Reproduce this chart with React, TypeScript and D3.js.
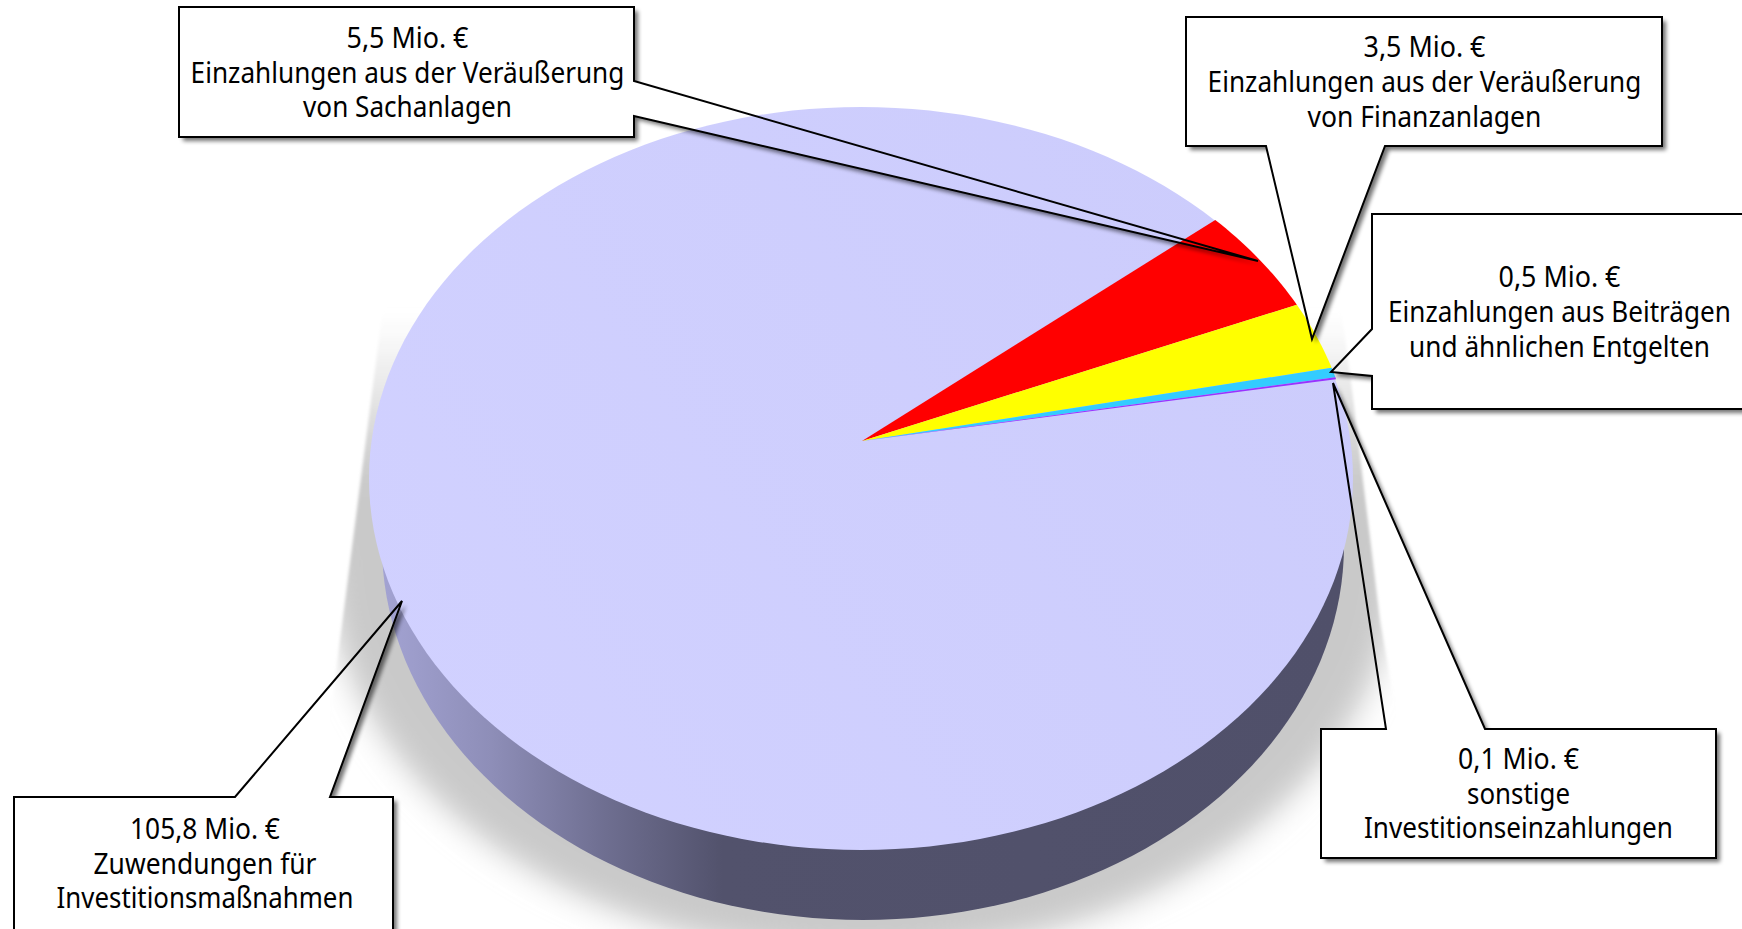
import React, { useLayoutEffect, useRef } from "react";
import * as d3 from "d3";

// ---- data ----
const categories = [
  "Einzahlungen aus der Veräußerung von Sachanlagen",
  "Einzahlungen aus der Veräußerung von Finanzanlagen",
  "Einzahlungen aus Beiträgen und ähnlichen Entgelten",
  "sonstige Investitionseinzahlungen",
  "Zuwendungen für Investitionsmaßnahmen",
];
const values = [5.5, 3.5, 0.5, 0.1, 105.8];
const sliceColors = ["#ff0000", "#ffff00", "#33ccff", "#9933ff", "#ccccff"];

// ---- callout layout ----
const W = 1742;
const H = 929;
const FONT = "'Noto Sans', 'Open Sans', sans-serif";

type Line = { t: string; w: number };
type Callout = {
  box: [number, number, number, number];
  path: [number, number][];
  cx: number;
  base: number[];
  lines: Line[];
};

const callouts: Callout[] = [
  {
    box: [179, 7, 634, 137],
    path: [[179, 7], [634, 7], [634, 81], [1258, 261], [634, 116], [634, 137], [179, 137]],
    cx: 407.5,
    base: [48, 83, 117],
    lines: [
      { t: "5,5 Mio. €", w: 122 },
      { t: "Einzahlungen aus der Veräußerung", w: 434 },
      { t: "von Sachanlagen", w: 209 },
    ],
  },
  {
    box: [1186, 17, 1662, 146],
    path: [[1186, 17], [1662, 17], [1662, 146], [1385, 146], [1312, 339], [1266, 146], [1186, 146]],
    cx: 1424.5,
    base: [57, 92, 127],
    lines: [
      { t: "3,5 Mio. €", w: 122 },
      { t: "Einzahlungen aus der Veräußerung", w: 434 },
      { t: "von Finanzanlagen", w: 234 },
    ],
  },
  {
    box: [1372, 214, 1770, 409],
    path: [[1372, 214], [1770, 214], [1770, 409], [1372, 409], [1372, 376], [1331, 372], [1372, 329]],
    cx: 1559.5,
    base: [287, 322, 357],
    lines: [
      { t: "0,5 Mio. €", w: 122 },
      { t: "Einzahlungen aus Beiträgen", w: 343 },
      { t: "und ähnlichen Entgelten", w: 301 },
    ],
  },
  {
    box: [1321, 729, 1716, 858],
    path: [[1321, 729], [1386, 729], [1333, 383], [1485, 729], [1716, 729], [1716, 858], [1321, 858]],
    cx: 1518.5,
    base: [769, 804, 838],
    lines: [
      { t: "0,1 Mio. €", w: 121 },
      { t: "sonstige", w: 103 },
      { t: "Investitionseinzahlungen", w: 309 },
    ],
  },
  {
    box: [14, 797, 393, 960],
    path: [[14, 797], [235, 797], [402, 601], [330, 797], [393, 797], [393, 960], [14, 960]],
    cx: 205,
    base: [839, 874, 908],
    lines: [
      { t: "105,8 Mio. €", w: 150 },
      { t: "Zuwendungen für", w: 223 },
      { t: "Investitionsmaßnahmen", w: 297 },
    ],
  },
];

// ---- pie geometry: a flat disc seen in perspective ----
const apexX = 862;
const apexY = 441;
const persp = 0.101;
const discA = 489.5;
const discB = 367.7;
const startDeg = 50.2;

const project = (theta: number): [number, number] => {
  const u = Math.sin(theta);
  const v = -Math.cos(theta);
  const w = 1 - persp * v;
  return [apexX + (discA * u) / w, apexY + (discB * v) / w];
};

const lineGen = d3.line<[number, number]>();

const wedgePath = (a0: number, a1: number): string => {
  const n = Math.max(2, Math.ceil(((a1 - a0) * 180) / Math.PI));
  const rim = d3.range(n + 1).map((i) => project(a0 + ((a1 - a0) * i) / n));
  return lineGen([[apexX, apexY], ...rim])! + "Z";
};

const ellipsePath = (cx: number, cy: number, rx: number, ry: number): string => {
  const pts = d3.range(0, 361, 2).map((d) => {
    const a = (d * Math.PI) / 180;
    return [cx + rx * Math.cos(a), cy + ry * Math.sin(a)] as [number, number];
  });
  return lineGen(pts)! + "Z";
};

// A centred line of text squeezed horizontally to the width it has in the chart.
function FitText({ x, y, w, children }: { x: number; y: number; w: number; children: string }) {
  const ref = useRef<SVGTextElement>(null);
  useLayoutEffect(() => {
    const el = ref.current;
    if (!el) return;
    const len = el.getComputedTextLength();
    el.setAttribute("transform", `translate(${x},${y}) scale(${w / len},1)`);
  }, [x, y, w]);
  return (
    <text
      ref={ref}
      transform={`translate(${x},${y})`}
      textAnchor="middle"
      fontFamily={FONT}
      fontSize={29.5}
      fill="#000"
    >
      {children}
    </text>
  );
}

export default function App() {
  const start = (startDeg * Math.PI) / 180;
  const arcs = d3
    .pie<number>()
    .sort(null)
    .startAngle(start)
    .endAngle(start + 2 * Math.PI)(values);

  return (
    <svg
      width={W}
      height={H}
      viewBox={`0 0 ${W} ${H}`}
      style={{ position: "fixed", left: 0, top: 0, display: "block", background: "#fff" }}
    >
      <defs>
        <linearGradient id="wall" gradientUnits="userSpaceOnUse" x1={375} x2={1340} y1={0} y2={0}>
          <stop offset="0" stopColor="#a4a4d4" />
          <stop offset="0.12" stopColor="#8e8eb8" />
          <stop offset="0.24" stopColor="#6e6e90" />
          <stop offset="0.36" stopColor="#52526c" />
          <stop offset="1" stopColor="#50506a" />
        </linearGradient>
        <linearGradient id="disc" gradientUnits="userSpaceOnUse" x1={400} y1={800} x2={1300} y2={200}>
          <stop offset="0" stopColor="#d1d1ff" />
          <stop offset="1" stopColor="#ccccfc" />
        </linearGradient>
        <linearGradient id="shadowFade" gradientUnits="userSpaceOnUse" x1={0} x2={0} y1={320} y2={480}>
          <stop offset="0" stopColor="#ffffff" />
          <stop offset="1" stopColor="#c9c9c9" />
        </linearGradient>
        <filter id="soft" x="-10%" y="-10%" width="120%" height="120%">
          <feGaussianBlur stdDeviation="15" />
        </filter>
        <filter id="edge" x="-5%" y="-5%" width="110%" height="110%">
          <feGaussianBlur stdDeviation="1.5" />
        </filter>
        <filter id="outer" x="-10%" y="-10%" width="125%" height="125%" colorInterpolationFilters="sRGB">
          <feGaussianBlur in="SourceAlpha" stdDeviation="2" />
          <feOffset dx="4" dy="4" result="off" />
          <feComposite in="off" in2="SourceAlpha" operator="out" result="cut" />
          <feComponentTransfer in="cut">
            <feFuncA type="linear" slope="0.55" />
          </feComponentTransfer>
        </filter>
        <clipPath id="shadowClip">
          <path d="M384,300 L340,640 L300,970 L1440,970 L1380,620 L1352,390 L1340,300 Z" />
        </clipPath>
      </defs>

      <g filter="url(#edge)">
        <g clipPath="url(#shadowClip)">
          <path
            d={ellipsePath(862, 560, 535, 395) + " M300,300 H1440 V560 H300 Z"}
            fill="url(#shadowFade)"
            filter="url(#soft)"
          />
        </g>
      </g>

      <path d={ellipsePath(863, 545, 481, 375)} fill="url(#wall)" />
      <path d={ellipsePath(861, 478.5, 492, 371.5)} fill="url(#disc)" />

      {arcs.map((a, i) =>
        i < arcs.length - 1 ? (
          <path key={categories[i]} d={wedgePath(a.startAngle, a.endAngle)} fill={sliceColors[i]} />
        ) : null
      )}

      {callouts.map((c) => (
        <path key={"s" + c.cx} d={lineGen(c.path)! + "Z"} fill="#000" filter="url(#outer)" />
      ))}
      {callouts.map((c) => (
        <rect
          key={"b" + c.cx}
          x={c.box[0]}
          y={c.box[1]}
          width={c.box[2] - c.box[0]}
          height={c.box[3] - c.box[1]}
          fill="#fff"
        />
      ))}
      {callouts.map((c) => (
        <path
          key={c.lines[0].t}
          d={lineGen(c.path)! + "Z"}
          fill="none"
          stroke="#000"
          strokeWidth={2}
          strokeLinejoin="miter"
        />
      ))}
      {callouts.map((c) =>
        c.lines.map((l, j) => (
          <FitText key={l.t + c.cx} x={c.cx} y={c.base[j]} w={l.w}>
            {l.t}
          </FitText>
        ))
      )}
    </svg>
  );
}
